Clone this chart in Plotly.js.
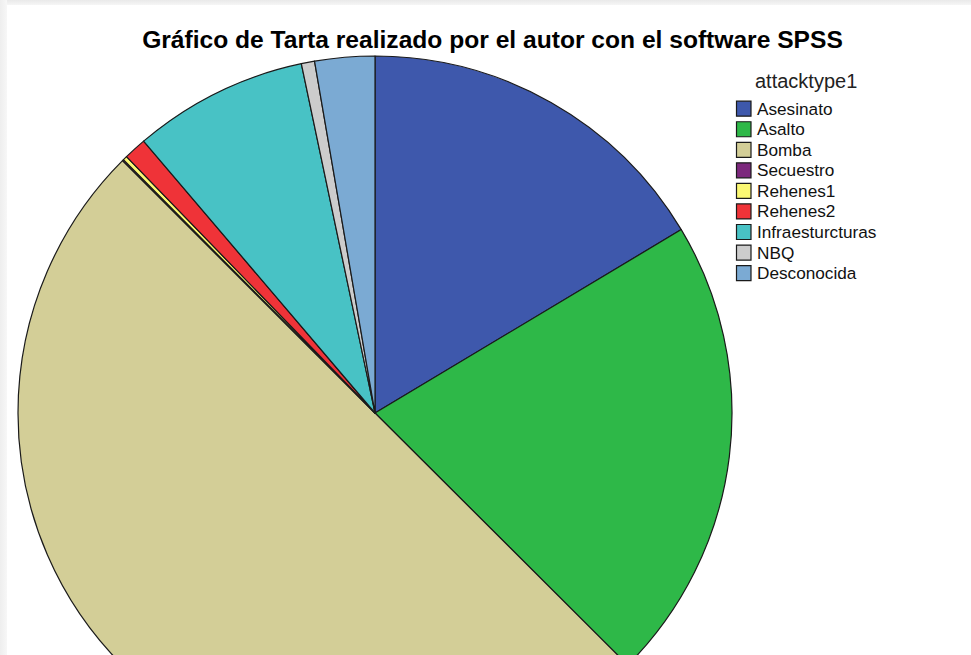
<!DOCTYPE html>
<html>
<head>
<meta charset="utf-8">
<script src="https://cdn.plot.ly/plotly-3.0.1.min.js"></script>
<style>
  html, body { margin: 0; padding: 0; width: 971px; height: 655px; overflow: hidden; background: #ffffff; }
  #chart { position: absolute; left: 0; top: 0; width: 971px; height: 900px; }
  #topstrip { position: absolute; left: 0; top: 0; width: 971px; height: 5px; background: linear-gradient(#e9e9e9, #f6f6f6); z-index: 5; }
  #leftstrip { position: absolute; left: 0; top: 0; width: 7px; height: 655px; background: linear-gradient(to right, #eeeeee, #f7f7f7); z-index: 5; }
</style>
</head>
<body>
<div id="chart"></div>
<div id="topstrip"></div>
<div id="leftstrip"></div>
<script>
// ---- data ----
const categories = ["Asesinato", "Asalto", "Bomba", "Secuestro", "Rehenes1", "Rehenes2", "Infraesturcturas", "NBQ", "Desconocida"];
const values = [16.42, 21.08, 50.04, 0.06, 0.19, 1.03, 7.92, 0.60, 2.71];
const colors = ["#3E58AC", "#2EB848", "#D3CE97", "#7C287D", "#FBF873", "#EF3338", "#48C2C5", "#CCCCCC", "#7BAAD3"];
const chartTitle = "Gráfico de Tarta realizado por el autor con el software SPSS";
const legendTitle = "attacktype1";

// ---- layout helpers (pixel -> paper) ----
const W = 971, H = 900;
const px = x => x / W;
const py = y => 1 - y / H;

const trace = {
  type: "pie",
  labels: categories,
  values: values,
  sort: false,
  direction: "clockwise",
  rotation: 0,
  textinfo: "none",
  hoverinfo: "label+percent",
  marker: { colors: colors, line: { color: "#1a1a1a", width: 1.2 } },
  domain: { x: [px(18), px(732)], y: [py(770), py(56)] },
  showlegend: false
};

const annotations = [{
  text: legendTitle, xref: "paper", yref: "paper",
  x: px(753), y: py(81), xanchor: "left", yanchor: "middle", showarrow: false,
  font: { family: "Liberation Sans, Arial, sans-serif", size: 20, color: "#222222" }
}];
const shapes = [];
const rowTop = 108.7, rowGap = 20.55;
categories.forEach((c, i) => {
  const cy = rowTop + i * rowGap;
  annotations.push({
    text: c, xref: "paper", yref: "paper",
    x: px(755), y: py(cy), xanchor: "left", yanchor: "middle", showarrow: false,
    font: { family: "Liberation Sans, Arial, sans-serif", size: 17.2, color: "#111111" }
  });
  shapes.push({
    type: "rect", xref: "paper", yref: "paper",
    x0: px(736.5), x1: px(751), y0: py(cy - 7.5), y1: py(cy + 7.5),
    fillcolor: colors[i], line: { color: "#1a1a1a", width: 1.2 }
  });
});

const layout = {
  width: W, height: H,
  margin: { l: 0, r: 0, t: 0, b: 0 },
  paper_bgcolor: "#ffffff",
  title: {
    text: "<b>" + chartTitle + "</b>",
    x: px(492.5), xanchor: "center", y: py(39), yanchor: "middle",
    font: { family: "Liberation Sans, Arial, sans-serif", size: 24.6, color: "#000000" }
  },
  annotations: annotations,
  shapes: shapes,
  showlegend: false
};

Plotly.newPlot("chart", [trace], layout, { displayModeBar: false, staticPlot: true });
</script>
</body>
</html>
